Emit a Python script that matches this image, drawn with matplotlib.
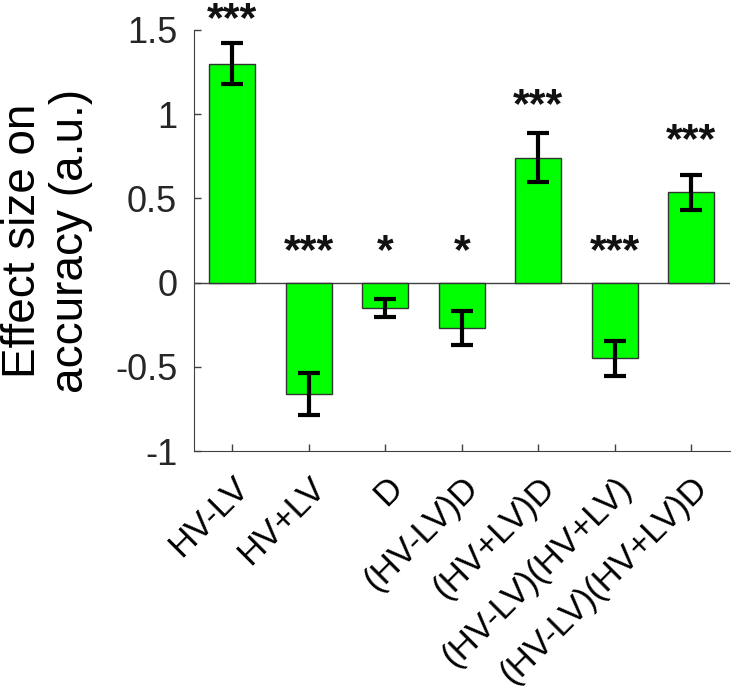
import matplotlib
matplotlib.use("Agg")
import matplotlib.pyplot as plt

plt.rcParams['font.family'] = ['Liberation Sans', 'DejaVu Sans']
plt.rcParams['axes.unicode_minus'] = False

# effet de chaque terme sur la précision
labels = ["HV-LV", "HV+LV", "D", "(HV-LV)D", "(HV+LV)D",
          "(HV-LV)(HV+LV)", "(HV-LV)(HV+LV)D"]
effets = [1.30, -0.66, -0.15, -0.27, 0.74, -0.45, 0.535]
erreurs = [0.12, 0.125, 0.055, 0.10, 0.145, 0.105, 0.105]
etoiles = ["***", "***", "*", "*", "***", "***", "***"]
y_etoiles = [1.56, 0.18, 0.18, 0.18, 1.05, 0.18, 0.84]
yticks = [-1, -0.5, 0, 0.5, 1, 1.5]
ytick_labels = ["-1", "-0.5", "0", "0.5", "1", "1.5"]

fig = plt.figure(figsize=(7.4, 6.95), dpi=100)
ax = fig.add_axes([0.262, 0.351, 0.724, 0.606])

x = list(range(1, len(labels) + 1))
ax.bar(x, effets, width=0.6, color="#00ff00", edgecolor="#333333", linewidth=1, zorder=2)
ax.errorbar(x, effets, yerr=erreurs, fmt="none", ecolor="black",
            elinewidth=3, capsize=8, capthick=3, zorder=3)
ax.axhline(0, color="#404040", linewidth=1, zorder=1)

for i in range(len(x)):
    ax.text(x[i], y_etoiles[i], etoiles[i], ha="center", va="center",
            fontsize=31, color="#111111", fontweight="bold")

ax.set_xlim(0.5, 7.5)
ax.set_ylim(-1, 1.5)
ax.set_yticks(yticks)
ax.set_yticklabels(ytick_labels, fontsize=26, color="#262626")
ax.set_xticks(x)
ax.set_xticklabels(labels, fontsize=25, rotation=45, ha="right", va="top",
                   rotation_mode="anchor", color="black")
ax.tick_params(direction="in", length=5, color="#404040", width=1)
ax.tick_params(axis="y", pad=12)
ax.tick_params(axis="x", pad=14)

ax.spines["top"].set_visible(False)
ax.spines["right"].set_visible(False)
ax.spines["left"].set_color("#404040")
ax.spines["bottom"].set_color("#404040")

ax.set_ylabel("Effect size on\naccuracy (a.u.)", fontsize=33, labelpad=16,
              linespacing=1.12)

fig.savefig("out.png", dpi=100)
